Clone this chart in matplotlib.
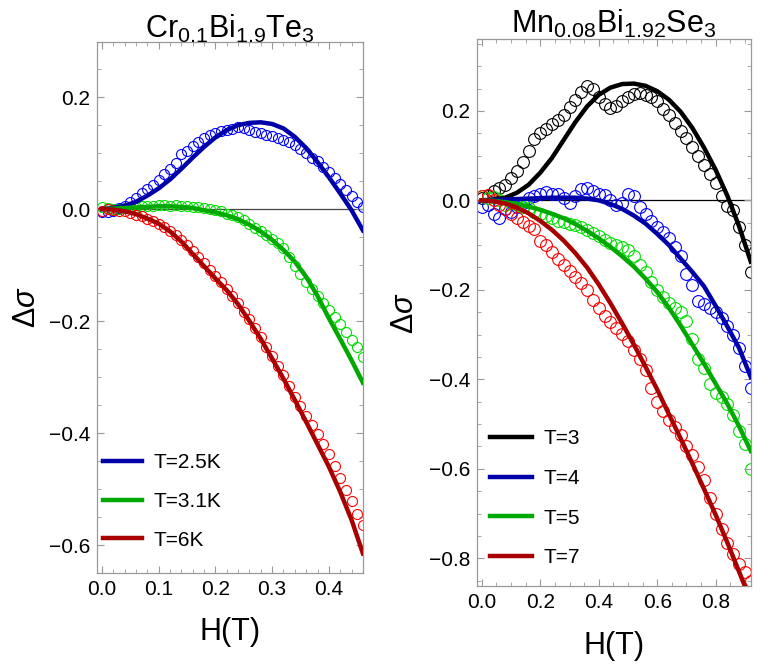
import matplotlib
matplotlib.use('Agg')
import matplotlib.pyplot as plt
from matplotlib.ticker import MultipleLocator

# --- data: Cr0.1Bi1.9Te3 (left panel) ---
h_left = [0.00, 0.01, 0.02, 0.03, 0.04, 0.05, 0.06, 0.07, 0.08, 0.09,
          0.10, 0.11, 0.12, 0.13, 0.14, 0.15, 0.16, 0.17, 0.18, 0.19,
          0.20, 0.21, 0.22, 0.23, 0.24, 0.25, 0.26, 0.27, 0.28, 0.29,
          0.30, 0.31, 0.32, 0.33, 0.34, 0.35, 0.36, 0.37, 0.38, 0.39,
          0.40, 0.41, 0.42, 0.43, 0.44, 0.45, 0.46]
ds_25K = [-0.005, -0.006, -0.004, 0.002, 0.006, 0.012, 0.020, 0.028, 0.035, 0.043,
          0.052, 0.062, 0.072, 0.083, 0.098, 0.104, 0.112, 0.120, 0.127, 0.132,
          0.136, 0.139, 0.141, 0.143, 0.146, 0.145, 0.141, 0.137, 0.136, 0.133,
          0.131, 0.127, 0.124, 0.120, 0.114, 0.108, 0.100, 0.092, 0.085, 0.076,
          0.066, 0.056, 0.045, 0.034, 0.024, 0.013, 0.003]
ds_31K = [0.003, 0.002, 0.000, 0.001, 0.002, 0.003, 0.004, 0.005, 0.006, 0.006,
          0.007, 0.007, 0.006, 0.007, 0.006, 0.005, 0.004, 0.004, 0.002, 0.000,
          -0.002, -0.004, -0.008, -0.011, -0.015, -0.020, -0.026, -0.033, -0.040, -0.047,
          -0.054, -0.060, -0.070, -0.085, -0.102, -0.116, -0.130, -0.143, -0.155, -0.167,
          -0.180, -0.193, -0.205, -0.220, -0.233, -0.247, -0.265]
ds_6K = [-0.003, 0.000, -0.001, -0.003, -0.004, -0.007, -0.010, -0.013, -0.017, -0.021,
         -0.026, -0.032, -0.039, -0.047, -0.055, -0.065, -0.075, -0.086, -0.097, -0.108,
         -0.119, -0.130, -0.142, -0.155, -0.168, -0.183, -0.197, -0.212, -0.228, -0.246,
         -0.262, -0.281, -0.297, -0.316, -0.336, -0.352, -0.370, -0.385, -0.402, -0.420,
         -0.438, -0.458, -0.480, -0.502, -0.522, -0.545, -0.565]

hfit_left = [0.00, 0.02, 0.04, 0.06, 0.08, 0.10, 0.12, 0.14, 0.16, 0.18, 0.20, 0.22,
             0.24, 0.26, 0.28, 0.30, 0.32, 0.34, 0.36, 0.38, 0.40, 0.42, 0.44, 0.46]
fit_25K = [0.000, 0.002, 0.006, 0.013, 0.024, 0.037, 0.053, 0.072, 0.092, 0.111, 0.128, 0.141,
           0.150, 0.154, 0.155, 0.152, 0.144, 0.129, 0.109, 0.084, 0.057, 0.028, -0.002, -0.038]
fit_31K = [0.000, 0.001, 0.002, 0.003, 0.004, 0.005, 0.005, 0.004, 0.002, -0.002, -0.006, -0.011,
           -0.018, -0.028, -0.040, -0.055, -0.073, -0.094, -0.121, -0.155, -0.195, -0.232, -0.270, -0.310]
fit_6K = [0.000, -0.001, -0.004, -0.009, -0.017, -0.026, -0.040, -0.058, -0.080, -0.102, -0.124, -0.145,
          -0.170, -0.200, -0.232, -0.267, -0.303, -0.341, -0.380, -0.420, -0.460, -0.505, -0.555, -0.615]

# --- data: Mn0.08Bi1.92Se3 (right panel) ---
h_right = [0.00, 0.02, 0.04, 0.06, 0.08, 0.10, 0.12, 0.14, 0.16, 0.18,
           0.20, 0.22, 0.24, 0.26, 0.28, 0.30, 0.32, 0.34, 0.36, 0.38,
           0.40, 0.42, 0.44, 0.46, 0.48, 0.50, 0.52, 0.54, 0.56, 0.58,
           0.60, 0.62, 0.64, 0.66, 0.68, 0.70, 0.72, 0.74, 0.76, 0.78,
           0.80, 0.82, 0.84, 0.86, 0.88, 0.90, 0.92]
ds_T3 = [0.005, 0.010, 0.020, 0.028, 0.035, 0.050, 0.065, 0.085, 0.110, 0.138,
         0.150, 0.160, 0.170, 0.180, 0.190, 0.208, 0.225, 0.242, 0.255, 0.250,
         0.232, 0.215, 0.206, 0.210, 0.222, 0.232, 0.238, 0.239, 0.236, 0.230,
         0.222, 0.205, 0.190, 0.172, 0.155, 0.140, 0.120, 0.100, 0.080, 0.060,
         0.038, 0.010, -0.012, -0.022, -0.060, -0.100, -0.160]
ds_T4 = [-0.015, -0.010, -0.030, -0.040, -0.020, -0.025, -0.015, -0.005, 0.005, 0.010,
         0.015, 0.018, 0.015, 0.015, 0.005, -0.005, 0.010, 0.025, 0.028, 0.020,
         0.015, 0.012, 0.000, -0.010, -0.005, 0.015, 0.010, -0.015, -0.030, -0.045,
         -0.060, -0.070, -0.085, -0.105, -0.125, -0.165, -0.190, -0.225, -0.232, -0.240,
         -0.250, -0.262, -0.280, -0.300, -0.330, -0.370, -0.420]
ds_T5 = [0.010, 0.005, 0.008, 0.000, -0.010, -0.005, -0.010, -0.015, -0.018, -0.025,
         -0.030, -0.035, -0.040, -0.045, -0.048, -0.052, -0.055, -0.060, -0.066, -0.072,
         -0.080, -0.088, -0.095, -0.100, -0.105, -0.112, -0.125, -0.145, -0.160, -0.182,
         -0.200, -0.215, -0.230, -0.240, -0.250, -0.270, -0.310, -0.355, -0.375, -0.410,
         -0.430, -0.440, -0.455, -0.480, -0.515, -0.545, -0.600]
ds_T7 = [0.010, 0.012, 0.000, -0.010, -0.020, -0.030, -0.040, -0.048, -0.058, -0.065,
         -0.090, -0.100, -0.115, -0.130, -0.145, -0.158, -0.172, -0.185, -0.200, -0.222,
         -0.240, -0.258, -0.272, -0.285, -0.298, -0.315, -0.335, -0.355, -0.378, -0.420,
         -0.450, -0.470, -0.490, -0.507, -0.525, -0.548, -0.570, -0.595, -0.625, -0.665,
         -0.700, -0.735, -0.765, -0.790, -0.812, -0.830, -0.850]

hfit_right = [0.00, 0.04, 0.08, 0.12, 0.16, 0.20, 0.24, 0.28, 0.32, 0.36, 0.40, 0.44,
              0.48, 0.52, 0.56, 0.60, 0.64, 0.68, 0.72, 0.76, 0.80, 0.84, 0.88, 0.92]
fit_T3 = [0.000, 0.002, 0.006, 0.017, 0.035, 0.062, 0.095, 0.135, 0.175, 0.210, 0.236, 0.252,
          0.260, 0.261, 0.256, 0.244, 0.225, 0.198, 0.162, 0.118, 0.068, 0.010, -0.058, -0.137]
fit_T4 = [0.000, 0.001, 0.002, 0.003, 0.004, 0.005, 0.006, 0.006, 0.006, 0.004, 0.000, -0.008,
          -0.019, -0.034, -0.052, -0.075, -0.100, -0.130, -0.160, -0.192, -0.236, -0.282, -0.330, -0.395]
fit_T5 = [0.000, -0.001, -0.004, -0.008, -0.014, -0.021, -0.030, -0.040, -0.053, -0.068, -0.085, -0.104,
          -0.125, -0.148, -0.175, -0.205, -0.240, -0.280, -0.322, -0.365, -0.410, -0.455, -0.505, -0.560]
fit_T7 = [0.000, -0.002, -0.007, -0.016, -0.029, -0.046, -0.066, -0.090, -0.118, -0.150, -0.188, -0.230,
          -0.275, -0.322, -0.372, -0.423, -0.478, -0.532, -0.588, -0.645, -0.703, -0.765, -0.830, -0.895]

plt.rcParams.update({
    'font.family': 'Liberation Sans',
    'mathtext.fontset': 'custom',
    'mathtext.rm': 'Liberation Sans',
    'mathtext.it': 'Liberation Sans:italic',
})

fig = plt.figure(figsize=(7.63, 6.66), dpi=100)
ax1 = fig.add_axes([0.127, 0.1396, 0.3486, 0.797])
ax2 = fig.add_axes([0.625, 0.120, 0.359, 0.821])

frame_gray = '#999999'


def style_axis(ax, xmaj, xmin, ymaj, ymin, ylab_x):
    ax.xaxis.set_major_locator(MultipleLocator(xmaj))
    ax.xaxis.set_minor_locator(MultipleLocator(xmin))
    ax.yaxis.set_major_locator(MultipleLocator(ymaj))
    ax.yaxis.set_minor_locator(MultipleLocator(ymin))
    ax.tick_params(which='both', direction='in', top=True, right=True,
                   color=frame_gray, labelsize=15)
    ax.tick_params(which='major', length=5, width=0.8, pad=5)
    ax.tick_params(which='minor', length=3, width=0.6)
    for s in ax.spines.values():
        s.set_color(frame_gray)
        s.set_linewidth(0.9)
    ax.set_xlabel('H(T)', fontsize=22)
    ax.set_ylabel(r'Δ$\sigma$', fontsize=22)
    ax.xaxis.set_label_coords(0.5, -0.083)
    ax.yaxis.set_label_coords(ylab_x, 0.5)


# left panel
for y, c in [(ds_25K, '#0000ff'), (ds_31K, '#00e000'), (ds_6K, '#ff0000')]:
    ax1.plot(h_left, y, 'o', mfc='none', mec=c, ms=7.2, mew=0.8, zorder=2)
ax1.axhline(0, color='#444444', lw=0.9, zorder=1.5)
ax1.plot(hfit_left, fit_25K, color='#0000a8', lw=3.2, label='T=2.5K', zorder=3)
ax1.plot(hfit_left, fit_31K, color='#00a800', lw=3.2, label='T=3.1K', zorder=3)
ax1.plot(hfit_left, fit_6K, color='#a80000', lw=3.2, label='T=6K', zorder=3)
ax1.set_xlim(-0.009, 0.46)
ax1.set_ylim(-0.65, 0.298)
style_axis(ax1, 0.1, 0.02, 0.2, 0.05, -0.207)
ax1.text(0.5, 1.008, r'Cr$_{0.1}$Bi$_{1.9}$Te$_{3}$', transform=ax1.transAxes,
         ha='center', va='baseline', fontsize=22)
ax1.legend(loc='lower left', bbox_to_anchor=(0.0226, 0.044), frameon=False,
           fontsize=15, handlelength=1.88, handletextpad=0.55,
           labelspacing=0.95, borderaxespad=0, borderpad=0)

# right panel
for y, c in [(ds_T3, 'black'), (ds_T4, '#0000ff'), (ds_T5, '#00e000'), (ds_T7, '#ff0000')]:
    ax2.plot(h_right, y, 'o', mfc='none', mec=c, ms=8.5, mew=0.8, zorder=2)
ax2.axhline(0, color='black', lw=0.9, zorder=1.5)
ax2.plot(hfit_right, fit_T3, color='black', lw=3.2, label='T=3', zorder=3)
ax2.plot(hfit_right, fit_T4, color='#0000a8', lw=3.2, label='T=4', zorder=3)
ax2.plot(hfit_right, fit_T5, color='#00a800', lw=3.2, label='T=5', zorder=3)
ax2.plot(hfit_right, fit_T7, color='#a80000', lw=3.2, label='T=7', zorder=3)
ax2.set_xlim(-0.017, 0.92)
ax2.set_ylim(-0.862, 0.36)
style_axis(ax2, 0.2, 0.05, 0.2, 0.05, -0.208)
ax2.text(0.5, 1.011, r'Mn$_{0.08}$Bi$_{1.92}$Se$_{3}$', transform=ax2.transAxes,
         ha='center', va='baseline', fontsize=22)
ax2.legend(loc='lower left', bbox_to_anchor=(0.047, 0.034), frameon=False,
           fontsize=15, handlelength=2.03, handletextpad=0.55,
           labelspacing=1.0, borderaxespad=0, borderpad=0)

fig.savefig('out.png', dpi=100)
